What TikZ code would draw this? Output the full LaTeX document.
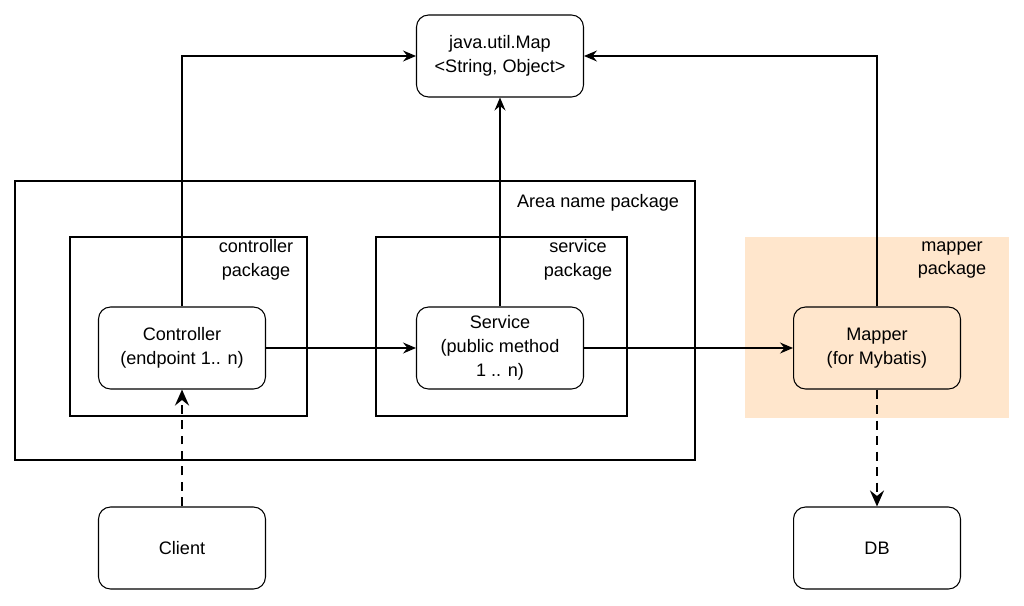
\documentclass[tikz,border=0pt]{standalone}
\usepackage{fontspec}
\setmainfont{Liberation Sans}
\usepackage{xcolor}
\usetikzlibrary{arrows.meta}

\definecolor{peach}{HTML}{FFE6CC}

\tikzset{
    block/.style={draw, rounded corners=0.24cm, line width=0.6pt, minimum width=3.34cm, minimum height=1.64cm, align=center},
    pkg/.style={draw, line width=0.6pt},
    lbl/.style={align=center},
    conn/.style={line width=0.6pt, -{Stealth[length=2.6mm, width=2.2mm, inset=0.9mm]}},
    dep/.style={line width=1.5pt, dash pattern=on 1.8mm off 1.3mm, -{Stealth[length=3.2mm, width=2.8mm, inset=1.1mm]}}
}

\begin{document}
\begin{tikzpicture}[x=0.02cm, y=-0.02cm, font=\fontsize{10.3}{13.5}\selectfont]
    \useasboundingbox (0,0) rectangle (1024,605);

    % Packages
    \draw[pkg] (15,181) rectangle (695,460);
    \node[lbl] (arealbl) at (598,203) {Area name package};

    \draw[pkg] (70,237) rectangle (307,416);
    \node[lbl] (ctrllbl) at (256,260) {controller\\package};

    \draw[pkg] (376,237) rectangle (627,416);
    \node[lbl] (svclbl) at (578,260) {service\\package};

    \fill[peach] (745,237) rectangle (1009,418);
    \node[lbl] (maplbl) at (952,260) {mapper\\package};

    % Components
    \node[block] (map) at (500,56) {java.util.Map\\<String, Object>};
    \node[block] (ctrl) at (182,348) {Controller\\(endpoint 1.. n)};
    \node[block] (svc) at (500,348) {Service\\(public method\\1 .. n)};
    \node[block, fill=peach] (mapper) at (877,348) {Mapper\\(for Mybatis)};
    \node[block] (client) at (182,548) {Client};
    \node[block] (db) at (877,548) {DB};

    % Connectors
    \draw[conn] (ctrl.north) |- (map.west);
    \draw[conn] (svc.north) -- (map.south);
    \draw[conn] (mapper.north) |- (map.east);
    \draw[conn] (ctrl.east) -- (svc.west);
    \draw[conn] (svc.east) -- (mapper.west);
    \draw[dep] (client.north) -- (ctrl.south);
    \draw[dep] (mapper.south) -- (db.north);
\end{tikzpicture}
\end{document}
